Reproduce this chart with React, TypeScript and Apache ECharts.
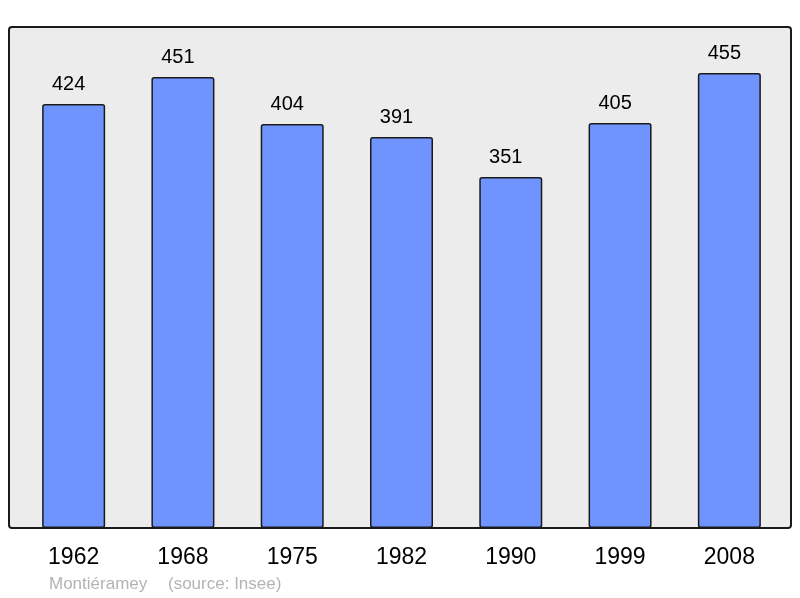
import React, { useEffect, useRef } from "react";
import * as echarts from "echarts";

const years = ["1962", "1968", "1975", "1982", "1990", "1999", "2008"];
const population = [424, 451, 404, 391, 351, 405, 455];
const placeName = "Montiéramey";
const sourceText = "(source: Insee)";

const App: React.FC = () => {
  const chartRef = useRef<HTMLDivElement>(null);

  useEffect(() => {
    if (!chartRef.current) return;

    const myChart = echarts.init(chartRef.current, null, { renderer: "svg" });

    const option = {
      animation: false,
      grid: { left: 19, right: 16, top: 27, bottom: 70 },
      graphic: [
        {
          type: "rect",
          z: -10,
          shape: { x: 9, y: 27, width: 782, height: 501, r: 3 },
          style: { fill: "#ececec", stroke: "#1a1a1a", lineWidth: 2 },
          silent: true,
        },
        {
          type: "text",
          left: 49,
          top: 575,
          style: {
            text: placeName,
            fill: "#b3b3b3",
            font: "17px 'Liberation Sans', Arial, sans-serif",
          },
        },
        {
          type: "text",
          left: 168,
          top: 575,
          style: {
            text: sourceText,
            fill: "#b3b3b3",
            font: "17px 'Liberation Sans', Arial, sans-serif",
          },
        },
      ],
      xAxis: {
        type: "category",
        data: years,
        axisLine: { show: false },
        axisTick: { show: false },
        axisLabel: {
          color: "#000",
          fontSize: 23,
          fontFamily: "'Liberation Sans', Arial, sans-serif",
          margin: 16,
        },
      },
      yAxis: {
        type: "value",
        min: 0,
        max: 501,
        show: false,
        splitLine: { show: false },
      },
      series: [
        {
          type: "bar",
          data: population,
          barWidth: 63,
          itemStyle: {
            color: "#7094ff",
            borderColor: "#1a1a1a",
            borderWidth: 1.5,
            borderRadius: 2,
          },
          label: {
            show: true,
            position: "top",
            distance: 11,
            offset: [-5, 0],
            color: "#000",
            fontSize: 20,
            fontFamily: "'Liberation Sans', Arial, sans-serif",
          },
        },
      ],
    };

    myChart.setOption(option);

    return () => {
      myChart.dispose();
    };
  }, []);

  return (
    <div
      ref={chartRef}
      style={{ position: "fixed", left: 0, top: 0, width: "800px", height: "598px" }}
    />
  );
};

export default App;
